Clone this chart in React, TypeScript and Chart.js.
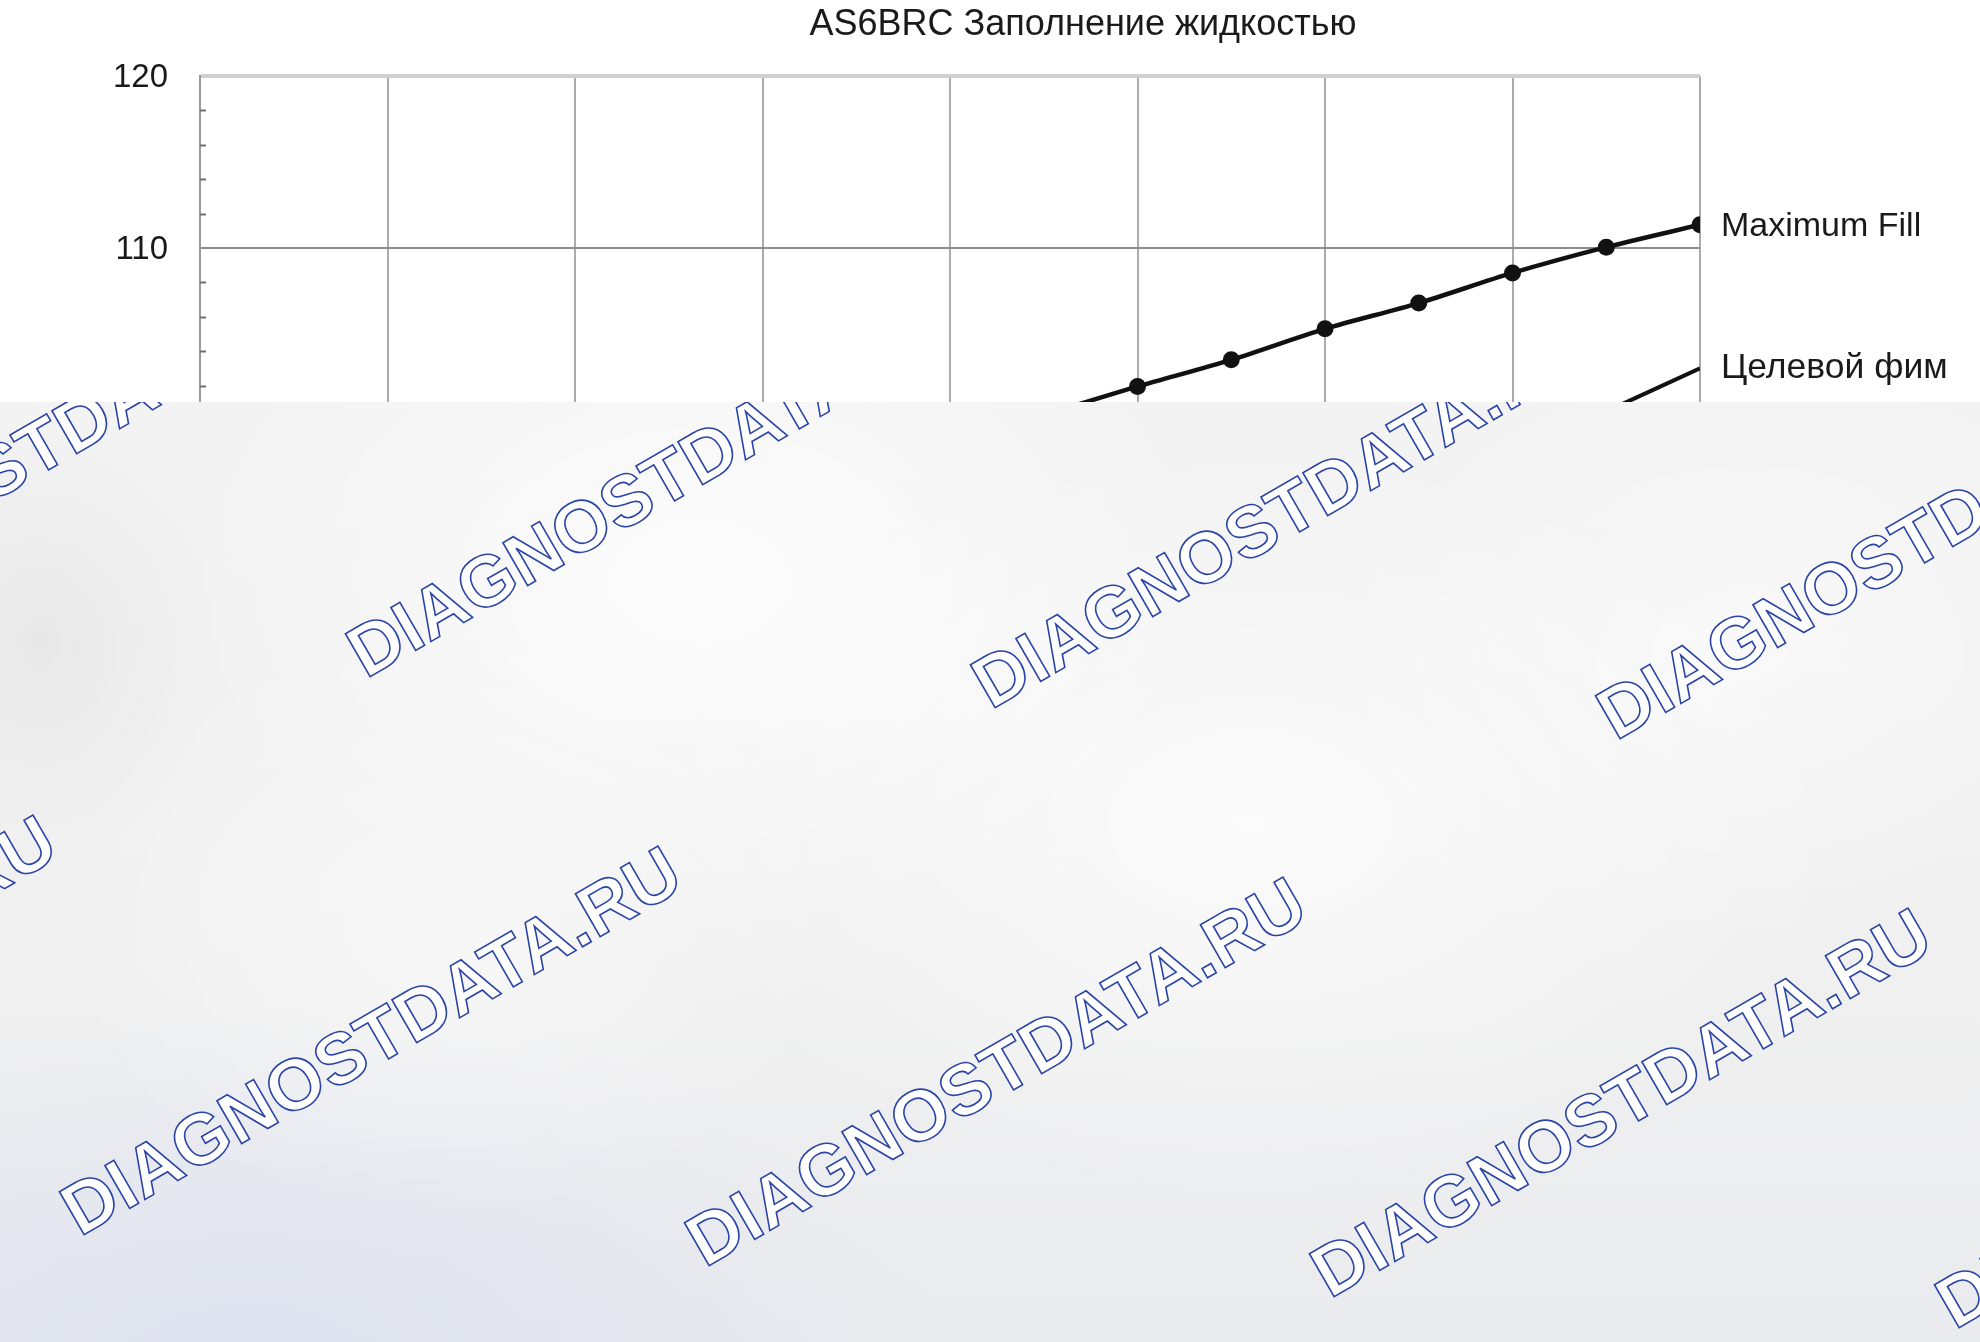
import React, { useEffect, useRef } from "react";
import { Chart, registerables } from "chart.js";

Chart.register(...registerables);

const chartTitle = "AS6BRC Заполнение жидкостью";
const maxFillLabel = "Maximum Fill";
const targetLabel = "Целевой фим";
const watermarkText = "DIAGNOSTDATA.RU";

// x positions (grid units) and values
const maxFillX = [4.5, 5, 5.5, 6, 6.5, 7, 7.5, 8];
const maxFillY = [100.3, 101.95, 103.5, 105.3, 106.8, 108.55, 110.05, 111.35];
const targetX = [7.5, 8];
const targetY = [100.5, 103.0];

const yMin = 50;
const yMax = 120;
const yMajorStep = 10;
const yMinorStep = 2;
const xMin = 0;
const xMax = 8;

// watermark anchor points (left end of baseline) in page pixels
const watermarkX = [-255, 371, 996, 1621, -540, 85, 710, 1335, 1960];
const watermarkY = [648, 679, 710, 741, 1206, 1237, 1268, 1299, 1330];

const FONT = "'Liberation Sans', Arial, Helvetica, sans-serif";
const OVERLAY_TOP = 402;

const decorPlugin = {
  id: "decor",
  afterDatasetsDraw(chart: any) {
    const { ctx, chartArea } = chart;
    const yScale = chart.scales.y;
    ctx.save();
    // minor ticks on the inside of the y axis
    ctx.strokeStyle = "#6f6f6f";
    ctx.lineWidth = 2;
    for (let v = yMin; v <= yMax; v += yMinorStep) {
      if (v % yMajorStep === 0) continue;
      const py = Math.round(yScale.getPixelForValue(v)) + 0.5;
      ctx.beginPath();
      ctx.moveTo(chartArea.left, py);
      ctx.lineTo(chartArea.left + 6, py);
      ctx.stroke();
    }
    // series end labels
    ctx.fillStyle = "#1a1a1a";
    ctx.textAlign = "left";
    ctx.textBaseline = "middle";
    const m0 = chart.getDatasetMeta(0).data;
    const m1 = chart.getDatasetMeta(1).data;
    const p0 = m0[m0.length - 1];
    const p1 = m1[m1.length - 1];
    ctx.font = `34px ${FONT}`;
    ctx.fillText(maxFillLabel, chartArea.right + 21, p0.y + 2);
    ctx.font = `35.5px ${FONT}`;
    ctx.fillText(targetLabel, chartArea.right + 21, p1.y);
    // title
    ctx.font = `36px ${FONT}`;
    ctx.textAlign = "center";
    ctx.fillText(chartTitle, 1083, 25);
    ctx.restore();
  },
};

function App() {
  const canvasRef = useRef<HTMLCanvasElement | null>(null);

  useEffect(() => {
    const canvas = canvasRef.current;
    if (!canvas) return;
    const chart = new Chart(canvas, {
      type: "line",
      data: {
        datasets: [
          {
            label: maxFillLabel,
            data: maxFillX.map((x, i) => ({ x, y: maxFillY[i] })),
            borderColor: "#111",
            backgroundColor: "#111",
            borderWidth: 4.5,
            pointRadius: 8.5,
            pointBackgroundColor: "#111",
            pointBorderWidth: 0,
            tension: 0.3,
          },
          {
            label: targetLabel,
            data: targetX.map((x, i) => ({ x, y: targetY[i] })),
            borderColor: "#111",
            borderWidth: 4,
            pointRadius: 0,
            tension: 0.3,
          },
        ],
      },
      options: {
        animation: false,
        responsive: false,
        maintainAspectRatio: false,
        layout: { padding: { left: 0, right: 280, top: 76, bottom: 62 } },
        plugins: {
          legend: { display: false },
          title: { display: false },
          tooltip: { enabled: false },
        },
        scales: {
          x: {
            type: "linear",
            min: xMin,
            max: xMax,
            ticks: { display: false, stepSize: 1 },
            grid: { color: "#ababab", lineWidth: 2, drawTicks: false },
            border: { display: false },
          },
          y: {
            type: "linear",
            min: yMin,
            max: yMax,
            afterFit: (scale: any) => {
              scale.width = 200;
            },
            ticks: {
              stepSize: yMinorStep,
              autoSkip: false,
              padding: 32,
              labelOffset: 2,
              color: "#1a1a1a",
              font: { family: FONT, size: 33 },
              callback: (v: any) => (Number(v) % yMajorStep === 0 ? String(v) : ""),
            },
            grid: {
              drawTicks: false,
              color: (c: any) => {
                const v = c.tick ? c.tick.value : 0;
                if (v === yMax) return "#d0d0d0";
                return v % yMajorStep === 0 ? "#8c8c8c" : "rgba(0,0,0,0)";
              },
              lineWidth: (c: any) => {
                const v = c.tick ? c.tick.value : 0;
                return v === yMax ? 4 : 2;
              },
            },
            border: { display: true, color: "#9a9a9a", width: 2 },
          },
        },
      },
      plugins: [decorPlugin],
    });
    return () => chart.destroy();
  }, []);

  return (
    <div
      style={{
        position: "absolute",
        left: 0,
        top: 0,
        width: 1980,
        height: 1342,
        background: "#fff",
        overflow: "hidden",
      }}
    >
      <canvas ref={canvasRef} width={1980} height={1342} style={{ display: "block" }} />
      <div
        style={{
          position: "absolute",
          left: 0,
          top: OVERLAY_TOP,
          width: 1980,
          height: 1342 - OVERLAY_TOP,
          overflow: "hidden",
          backgroundColor: "#efefef",
          backgroundImage: [
            "radial-gradient(ellipse 520px 360px at 700px 180px, rgba(255,255,255,0.8), rgba(255,255,255,0) 100%)",
            "radial-gradient(ellipse 600px 380px at 1250px 420px, rgba(255,255,255,0.7), rgba(255,255,255,0) 100%)",
            "radial-gradient(ellipse 420px 300px at 1750px 250px, rgba(255,255,255,0.55), rgba(255,255,255,0) 100%)",
            "radial-gradient(ellipse 400px 300px at 450px 520px, rgba(255,255,255,0.5), rgba(255,255,255,0) 100%)",
            "radial-gradient(ellipse 700px 360px at 250px 960px, rgba(220,225,240,0.85), rgba(220,225,240,0) 100%)",
            "radial-gradient(ellipse 180px 220px at 40px 240px, rgba(228,228,228,0.7), rgba(228,228,228,0) 100%)",
            "linear-gradient(180deg, #f3f3f3 0%, #f0f0f0 60%, #eaebee 100%)",
          ].join(", "),
        }}
      >
        {watermarkX.map((x, i) => (
          <span
            key={i}
            style={{
              position: "absolute",
              left: x - 5,
              top: watermarkY[i] - OVERLAY_TOP - 61,
              fontFamily: FONT,
              fontWeight: 700,
              fontSize: 72,
              lineHeight: 1,
              letterSpacing: 0.5,
              whiteSpace: "nowrap",
              color: "#ffffff",
              WebkitTextStroke: "1.6px #2a44a8",
              transform: "rotate(-30deg)",
              transformOrigin: "0px 61px",
            }}
          >
            {watermarkText}
          </span>
        ))}
      </div>
    </div>
  );
}

export default App;
